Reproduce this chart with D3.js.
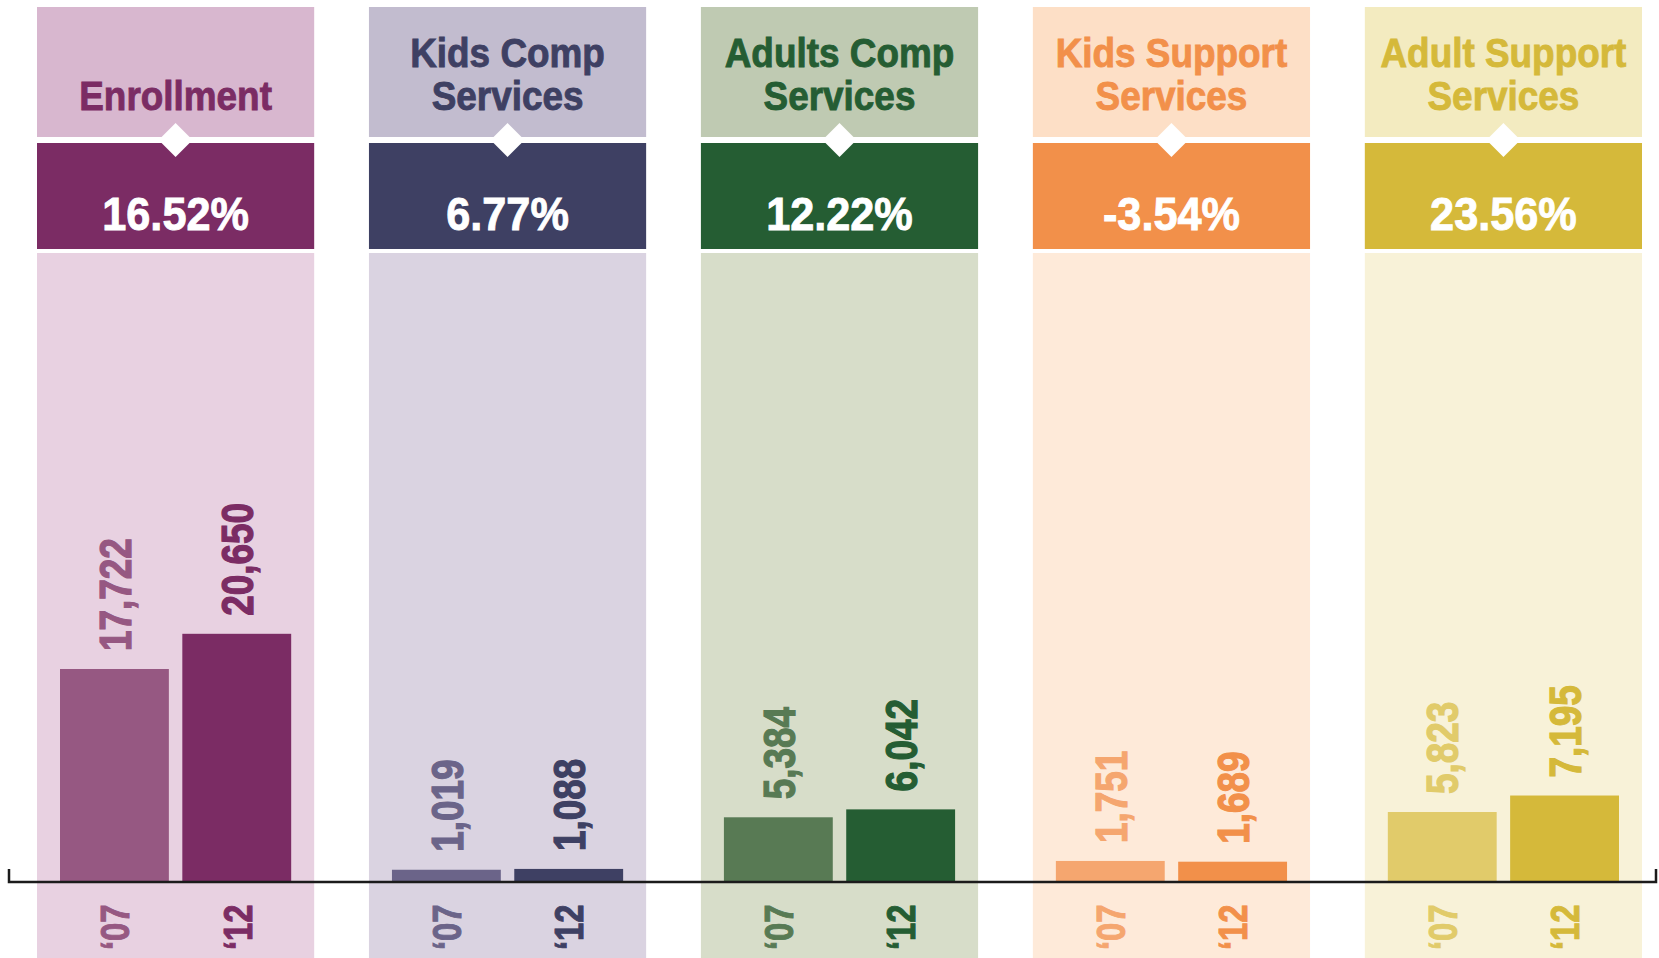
<!DOCTYPE html>
<html>
<head>
<meta charset="utf-8">
<script src="https://cdn.jsdelivr.net/npm/d3@7"></script>
<style>
  body { margin: 0; background: #fff; }
  svg { display: block; }
</style>
</head>
<body>
<div id="chart"></div>
<script>
// Data
const categories = ['Enrollment', 'Kids Comp Services', 'Adults Comp Services', 'Kids Support Services', 'Adult Support Services'];
const titleLines = [['Enrollment'], ['Kids Comp', 'Services'], ['Adults Comp', 'Services'], ['Kids Support', 'Services'], ['Adult Support', 'Services']];
const years = ['\u201807', '\u201812'];
const values07 = [17722, 1019, 5384, 1751, 5823];
const values12 = [20650, 1088, 6042, 1689, 7195];

// Colours per panel
const headerColors = ['#d8b7cf', '#c2bccf', '#bfcab2', '#fddfc6', '#f3ebc0'];
const lowerColors = ['#e8d1e1', '#dad3e1', '#d7ddc9', '#feead9', '#f8f2d8'];
const darkColors = ['#7b2c64', '#3e4063', '#255d33', '#f2904a', '#d5b93a'];
const lightColors = ['#965882', '#6b6489', '#587a54', '#f5a66f', '#e1cb6a'];

const width = 1659, height = 958;
const axisY = 882;
const font = "'Liberation Sans', Arial, sans-serif";

const panels = categories.map((c, i) => ({
  name: c, i,
  lines: titleLines[i],
  values: [values07[i], values12[i]],
  change: (values12[i] - values07[i]) / values07[i]
}));

const svg = d3.select('#chart')
  .append('svg')
  .attr('width', width)
  .attr('height', height);

// Scales
const x = d3.scaleBand()
  .domain(categories)
  .range([37, 1642])
  .paddingInner(0.165);

const bw = x.bandwidth();

const xYear = d3.scaleBand()
  .domain(years)
  .range([23, bw - 23])
  .paddingInner(0.11);

const y = d3.scaleLinear()
  .domain([0, 52000])
  .range([axisY, 257]);

const pct = v => d3.format('.2%')(v).replace('\u2212', '-');
const num = d3.format(',');

const g = svg.selectAll('.panel')
  .data(panels)
  .enter()
  .append('g')
  .attr('class', 'panel')
  .attr('transform', d => `translate(${x(d.name)},0)`);

// Backgrounds
g.append('rect')
  .attr('x', 0).attr('y', 7)
  .attr('width', bw).attr('height', 130)
  .attr('fill', d => headerColors[d.i]);

g.append('rect')
  .attr('x', 0).attr('y', 143)
  .attr('width', bw).attr('height', 106)
  .attr('fill', d => darkColors[d.i]);

g.append('rect')
  .attr('x', 0).attr('y', 253)
  .attr('width', bw).attr('height', height - 253)
  .attr('fill', d => lowerColors[d.i]);

// Diamond marker
g.append('path')
  .attr('d', `M${bw / 2},123 L${bw / 2 + 17},140 L${bw / 2},157 L${bw / 2 - 17},140 Z`)
  .attr('fill', '#fff');

// Titles
g.each(function(d) {
  const n = d.lines.length;
  d3.select(this).selectAll('.title')
    .data(d.lines)
    .enter()
    .append('text')
    .attr('class', 'title')
    .attr('transform', (t, j) => `translate(${bw / 2},${110 - (n - 1 - j) * 43}) scale(0.9,1)`)
    .attr('text-anchor', 'middle')
    .attr('font-family', font)
    .attr('font-weight', 'bold')
    .attr('font-size', 41)
    .attr('fill', darkColors[d.i])
    .attr('stroke', darkColors[d.i])
    .attr('stroke-width', 0.9)
    .text(t => t);
});

// Percent change
g.append('text')
  .attr('transform', `translate(${bw / 2},230) scale(0.94,1)`)
  .attr('text-anchor', 'middle')
  .attr('font-family', font)
  .attr('font-weight', 'bold')
  .attr('font-size', 46)
  .attr('fill', '#fff')
  .attr('stroke', '#fff')
  .attr('stroke-width', 0.9)
  .text(d => pct(d.change));

// Bars
const bars = g.selectAll('.bar-group')
  .data(d => d.values.map((v, k) => ({ v, year: years[k], k, i: d.i, c: k === 0 ? lightColors[d.i] : darkColors[d.i] })))
  .enter()
  .append('g')
  .attr('class', 'bar-group');

bars.append('rect')
  .attr('x', d => xYear(d.year))
  .attr('y', d => y(d.v))
  .attr('width', xYear.bandwidth())
  .attr('height', d => axisY - y(d.v))
  .attr('fill', d => d.c);

// Value labels (rotated, condensed)
bars.append('text')
  .attr('transform', d => `translate(${xYear(d.year) + xYear.bandwidth() / 2},${y(d.v) - 18}) rotate(-90) scale(0.82,1)`)
  .attr('dy', '0.36em')
  .attr('text-anchor', 'start')
  .attr('font-family', font)
  .attr('font-weight', 'bold')
  .attr('font-size', 45)
  .attr('fill', d => d.c)
  .attr('stroke', d => d.c)
  .attr('stroke-width', 1.2)
  .text(d => num(d.v));

// Year labels (rotated, below axis)
bars.append('text')
  .attr('transform', d => `translate(${xYear(d.year) + xYear.bandwidth() / 2},${axisY + 68}) rotate(-90) scale(0.8,1)`)
  .attr('dy', '0.36em')
  .attr('text-anchor', 'start')
  .attr('font-family', font)
  .attr('font-weight', 'bold')
  .attr('font-size', 41)
  .attr('fill', d => d.c)
  .attr('stroke', d => d.c)
  .attr('stroke-width', 1)
  .text(d => d.year);

// Baseline axis with end ticks
svg.append('path')
  .attr('d', `M9,${axisY - 13} V${axisY} H1656 V${axisY - 13}`)
  .attr('fill', 'none')
  .attr('stroke', '#1b1b1b')
  .attr('stroke-width', 2.5);
</script>
</body>
</html>
